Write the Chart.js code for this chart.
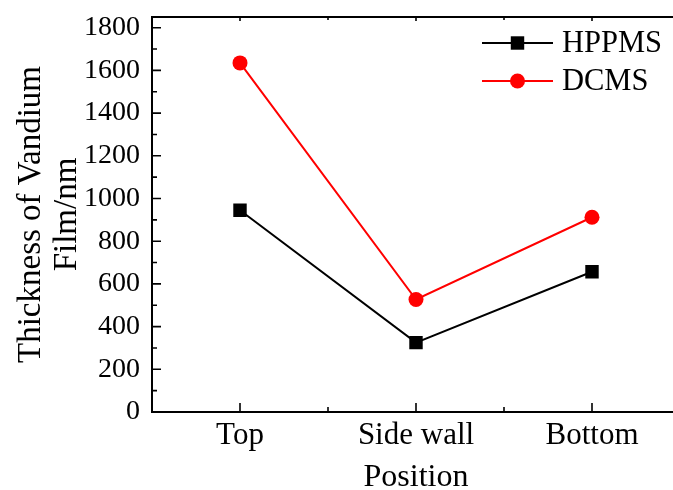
<!DOCTYPE html>
<html>
<head>
<meta charset="utf-8">
<script src="https://cdn.jsdelivr.net/npm/chart.js@4/dist/chart.umd.min.js"></script>
<style>
  html, body { margin: 0; padding: 0; overflow: hidden; background: #fff; }
  #wrap { width: 673px; height: 490px; overflow: hidden; }
  #c { display: block; }
</style>
</head>
<body>
<div id="wrap"><canvas id="c" width="692" height="490"></canvas></div>
<script>
// Film thickness at each position of the trench
const positions = ['Top', 'Side wall', 'Bottom'];
const hppms = [945, 325, 657];
const dcms = [1635, 527, 912];
const yTickValues = [0, 200, 400, 600, 800, 1000, 1200, 1400, 1600, 1800];
const yMinorValues = [100, 300, 500, 700, 900, 1100, 1300, 1500, 1700];

const SERIF = '"Liberation Serif", "Times New Roman", serif';

// Closed frame with inward major/minor tick marks, plus an in-plot legend
const framePlugin = {
  id: 'frame',
  afterDraw(chart) {
    const { ctx, chartArea: a, scales: { x, y } } = chart;
    ctx.save();
    ctx.strokeStyle = '#000';
    ctx.lineWidth = 2;
    ctx.strokeRect(a.left, a.top, a.right - a.left, a.bottom - a.top);

    ctx.lineWidth = 1.6;
    ctx.beginPath();
    const major = 9, minor = 5;
    yTickValues.forEach(v => {
      const py = y.getPixelForValue(v);
      ctx.moveTo(a.left, py); ctx.lineTo(a.left + major, py);
    });
    yMinorValues.forEach(v => {
      const py = y.getPixelForValue(v);
      ctx.moveTo(a.left, py); ctx.lineTo(a.left + minor, py);
    });
    positions.forEach((p, i) => {
      const px = x.getPixelForValue(i);
      ctx.moveTo(px, a.bottom); ctx.lineTo(px, a.bottom - major);
      ctx.moveTo(px, a.top); ctx.lineTo(px, a.top + 4);
      if (i < positions.length - 1) {
        const mx = (px + x.getPixelForValue(i + 1)) / 2;
        ctx.moveTo(mx, a.bottom); ctx.lineTo(mx, a.bottom - minor);
        ctx.moveTo(mx, a.top); ctx.lineTo(mx, a.top + 3);
      }
    });
    ctx.stroke();

    // legend entries drawn from the dataset styles
    const lx0 = a.left + 330, lx1 = a.left + 401, tx = a.left + 410;
    chart.data.datasets.forEach((ds, i) => {
      const ly = a.top + 26 + i * 38;
      ctx.strokeStyle = ds.borderColor;
      ctx.lineWidth = ds.borderWidth;
      ctx.beginPath(); ctx.moveTo(lx0, ly); ctx.lineTo(lx1, ly); ctx.stroke();
      ctx.fillStyle = ds.pointBackgroundColor;
      ctx.strokeStyle = ds.pointBackgroundColor;
      Chart.helpers.drawPoint(ctx, {
        pointStyle: ds.pointStyle, radius: ds.pointRadius, borderWidth: 0, rotation: 0
      }, (lx0 + lx1) / 2, ly);
      ctx.fillStyle = '#000';
      ctx.font = '30.5px ' + SERIF;
      ctx.textBaseline = 'middle';
      ctx.textAlign = 'left';
      ctx.fillText(ds.label, tx, ly + 1);
    });
    ctx.restore();
  }
};

new Chart(document.getElementById('c'), {
  type: 'line',
  data: {
    labels: positions,
    datasets: [
      {
        label: 'HPPMS', data: hppms,
        borderColor: '#000', backgroundColor: '#000',
        pointBackgroundColor: '#000', pointBorderColor: '#000',
        borderWidth: 2, pointStyle: 'rect', pointRadius: 9.5, pointBorderWidth: 0,
        tension: 0
      },
      {
        label: 'DCMS', data: dcms,
        borderColor: '#ff0000', backgroundColor: '#ff0000',
        pointBackgroundColor: '#ff0000', pointBorderColor: '#ff0000',
        borderWidth: 2, pointStyle: 'circle', pointRadius: 7.5, pointBorderWidth: 0,
        tension: 0
      }
    ]
  },
  options: {
    responsive: false,
    animation: false,
    devicePixelRatio: 1,
    layout: { padding: { top: 17, right: 12, left: 0, bottom: 0 } },
    plugins: { legend: { display: false }, tooltip: { enabled: false } },
    scales: {
      x: {
        type: 'category',
        offset: true,
        grid: { display: false, drawTicks: false },
        border: { display: false },
        ticks: { color: '#000', font: { family: SERIF, size: 31 }, padding: 5, maxRotation: 0 },
        title: {
          display: true, text: 'Position', color: '#000',
          font: { family: SERIF, size: 32, lineHeight: 0.75 }, padding: { top: 0, bottom: 0 }
        },
        afterFit(s) { s.height = 78; s.paddingLeft = 0; s.paddingRight = 0; }
      },
      y: {
        min: 0, max: 1850,
        grid: { display: false, drawTicks: false },
        border: { display: false },
        afterBuildTicks(s) { s.ticks = yTickValues.map(v => ({ value: v })); },
        ticks: {
          color: '#000', font: { family: SERIF, size: 28 }, padding: 12,
          callback: v => String(v)
        },
        title: {
          display: true, text: ['Thickness of Vandium', 'Film/nm'], color: '#000',
          font: { family: SERIF, size: 33, lineHeight: 1.09 }, padding: { top: 13, bottom: 0 }
        },
        afterFit(s) { s.width = 152; s.paddingTop = 0; s.paddingBottom = 0; }
      }
    }
  },
  plugins: [framePlugin]
});
</script>
</body>
</html>
